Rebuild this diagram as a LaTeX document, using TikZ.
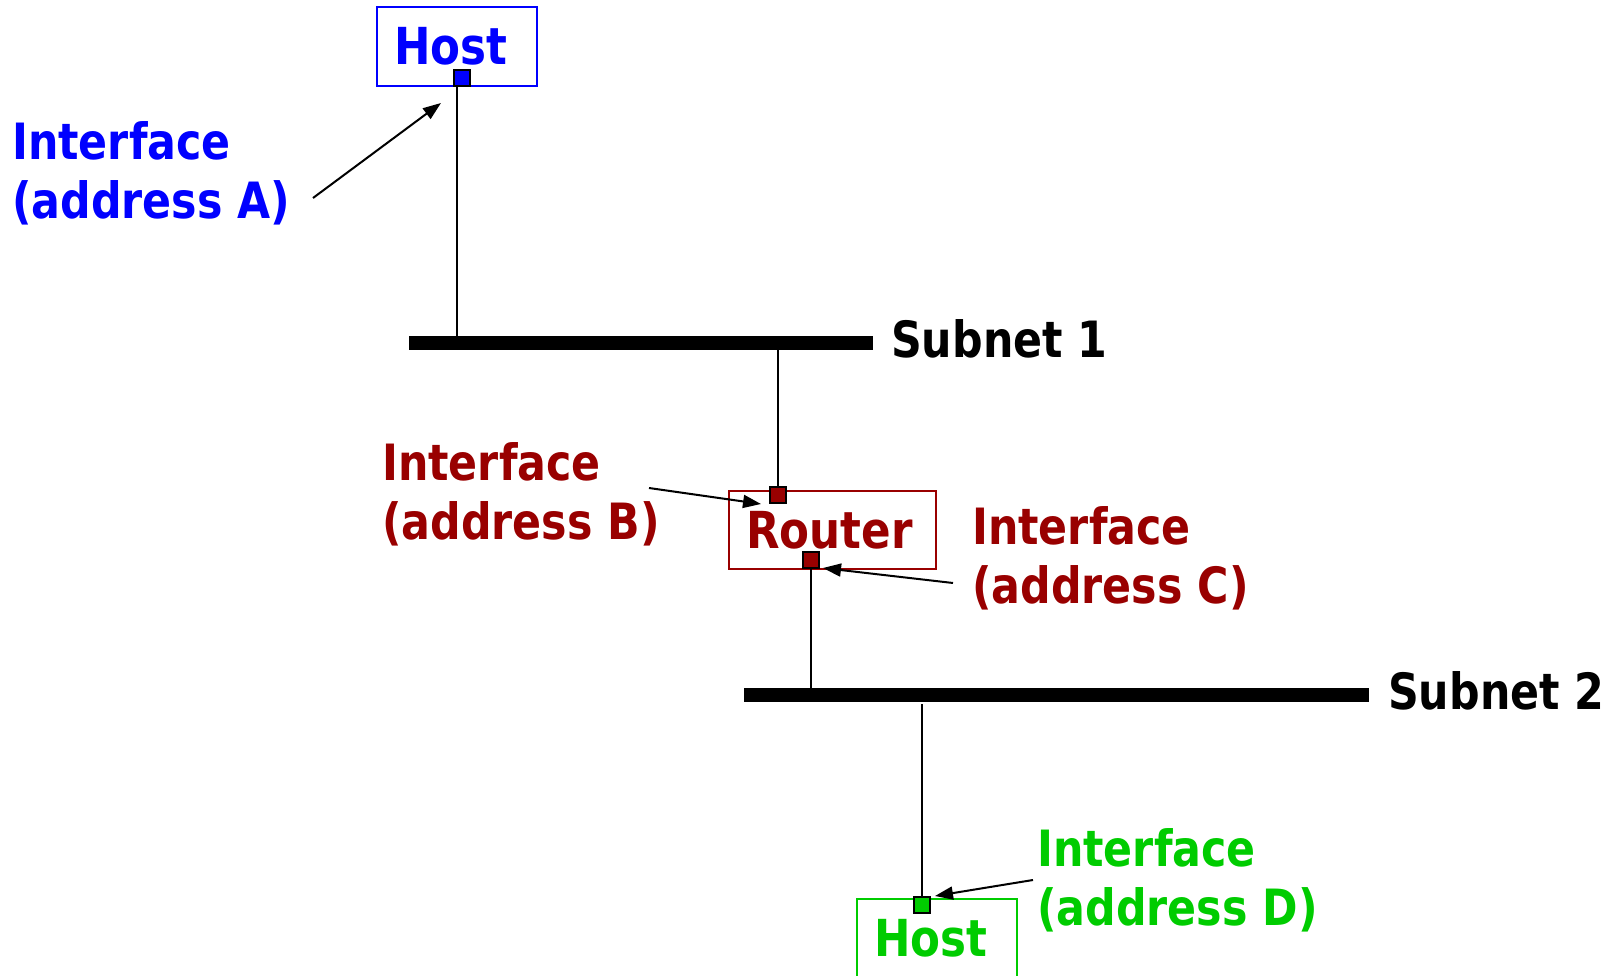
\documentclass[tikz,border=0pt]{standalone}
\usepackage{fontspec}
\setmainfont{DejaVu Sans}[FakeStretch=0.855]
\usetikzlibrary{arrows.meta}
\definecolor{cblue}{RGB}{0,0,255}
\definecolor{cred}{RGB}{153,0,0}
\definecolor{cgreen}{RGB}{0,204,0}
\tikzset{
  lbl/.style={font=\fontsize{50}{59}\selectfont\bfseries, inner sep=0pt, align=left, anchor=west},
  bus/.style={fill=black, draw=none, minimum height=14.5, inner sep=0pt},
  wire/.style={line width=2pt, draw=black},
  iface/.style={draw=black, line width=2pt, minimum size=16.5, inner sep=0pt},
  devbox/.style={line width=1.6pt, inner sep=0pt, font=\fontsize{51}{59}\selectfont\bfseries},
  pointer/.style={line width=2pt, -{Triangle[length=18pt,width=13pt]}},
}
\begin{document}
\begin{tikzpicture}[x=1pt,y=-1pt]
\useasboundingbox (0,0) rectangle (1610,976);
% host A
\node[devbox, draw=cblue, text=cblue, minimum width=160, minimum height=79] (hostA) at (457,46.5) {Host\kern12pt};
\node[iface, fill=cblue] (ifA) at (462,78) {};
% subnet 1
\node[bus, minimum width=464] (bus1) at (641,343) {};
\node[lbl] (sub1) at (891,339) {Subnet 1};
% router
\node[devbox, draw=cred, text=cred, minimum width=207, minimum height=78] (router) at (832.5,530) {Router\kern6pt};
\node[iface, fill=cred] (ifB) at (778,495) {};
\node[iface, fill=cred] (ifC) at (811,560) {};
% subnet 2
\node[bus, minimum width=625] (bus2) at (1056.5,695) {};
\node[lbl] (sub2) at (1388,691) {Subnet 2};
% host D
\node[devbox, draw=cgreen, text=cgreen, minimum width=160, minimum height=79] (hostD) at (937,938.5) {Host\kern12pt};
\node[iface, fill=cgreen] (ifD) at (922,905) {};
% wires
\draw[wire] ([xshift=-5pt]ifA.south) -- ([xshift=-5pt]ifA.south |- bus1.north);
\draw[wire] (ifB.north) -- (ifB.north |- bus1.south);
\draw[wire] (ifC.south) -- (ifC.south |- bus2.north);
\draw[wire] (ifD.north) -- ([yshift=-2pt]ifD.north |- bus2.south);
% labels
\node[lbl, text=cblue] (lA) at (12,173) {Interface\\(address A)};
\node[lbl, text=cred] (lB) at (382,494) {Interface\\(address B)};
\node[lbl, text=cred] (lC) at (972,558) {Interface\\(address C)};
\node[lbl, text=cgreen] (lD) at (1037,880) {Interface\\(address D)};
% pointers
\coordinate (pA) at (313,198);
\coordinate (tA) at (441,103);
\coordinate (pB) at (649,488);
\coordinate (tB) at (761,504);
\coordinate (pC) at (953,583);
\coordinate (tC) at (823,568);
\coordinate (pD) at (1033,880);
\coordinate (tD) at (935,896);
\draw[pointer] (pA) -- (tA);
\draw[pointer] (pB) -- (tB);
\draw[pointer] (pC) -- (tC);
\draw[pointer] (pD) -- (tD);
\end{tikzpicture}
\end{document}
